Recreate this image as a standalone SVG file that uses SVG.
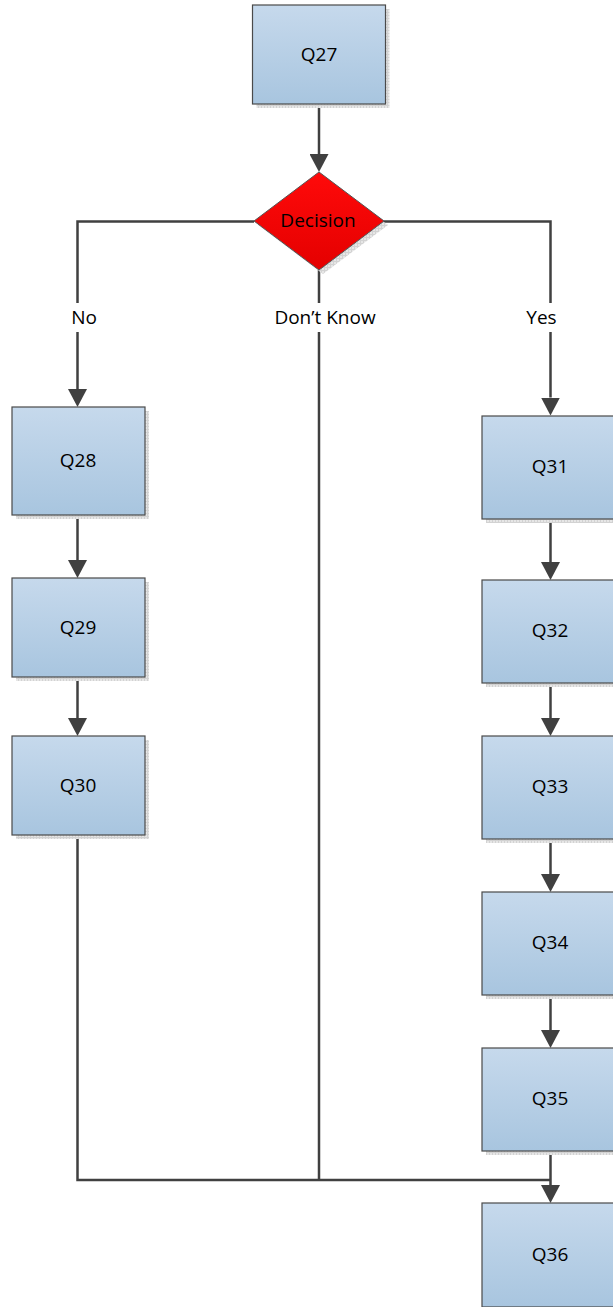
<svg xmlns="http://www.w3.org/2000/svg" width="613" height="1307" viewBox="0 0 613 1307">
<style>
.box{fill:url(#gBox);stroke:#4a4a4a;stroke-width:1.2}
.sh{fill:url(#hatch)}
.lbl{font-family:"Open Sans","Noto Sans",sans-serif;font-size:19px;fill:#000;text-anchor:middle}
.con{fill:none;stroke:#404040;stroke-width:2.5}
.arr{marker-end:url(#ah)}
</style>
<defs>
<linearGradient id="gBox" x1="0" y1="0" x2="0" y2="1">
<stop offset="0" stop-color="#c6d9ec"/>
<stop offset="1" stop-color="#a8c5df"/>
</linearGradient>
<linearGradient id="gRed" x1="0" y1="0" x2="0" y2="1">
<stop offset="0" stop-color="#ff0a0a"/>
<stop offset="1" stop-color="#e40000"/>
</linearGradient>
<pattern id="hatch" width="3" height="3" patternUnits="userSpaceOnUse">
<rect width="3" height="3" fill="#e6e6e6"/>
<rect width="1" height="3" fill="#d2d2d2"/>
<rect width="3" height="1" fill="#d2d2d2"/>
</pattern>
<marker id="ah" markerUnits="userSpaceOnUse" markerWidth="18" markerHeight="19" viewBox="0 0 18 19" refX="0" refY="9.5" orient="auto">
<path d="M0,0 L18,9.5 L0,19 Z" fill="#404040"/>
</marker>
</defs>

<g id="connectors">
<path class="con arr" d="M319,104 V154"/>
<path class="con arr" d="M254,221.5 H77.5 V389"/>
<path class="con arr" d="M384,221.5 H550.5 V397.5"/>
<path class="con" d="M319,270 V1180"/>
<path class="con arr" d="M77.5,515 V560"/>
<path class="con arr" d="M77.5,677 V718"/>
<path class="con" d="M77.5,835 V1180 H550.5"/>
<path class="con arr" d="M550.5,519 V562"/>
<path class="con arr" d="M550.5,683 V718"/>
<path class="con arr" d="M550.5,839 V874"/>
<path class="con arr" d="M550.5,995 V1030"/>
<path class="con arr" d="M550.5,1151 V1185"/>
<rect x="66" y="303" width="36" height="29" fill="#fff"/>
<text class="lbl" x="84" y="324">No</text>
<rect x="270" y="303" width="110" height="29" fill="#fff"/>
<text class="lbl" x="325" y="324">Don’t Know</text>
<rect x="522" y="303" width="40" height="29" fill="#fff"/>
<text class="lbl" x="541.5" y="324">Yes</text>
</g>

<g id="Q27">
<rect class="sh" x="256.5" y="9" width="133" height="99"/>
<rect class="box" x="252.5" y="5" width="133" height="99"/>
<text class="lbl" x="319" y="61">Q27</text>
</g>
<g id="Decision">
<polygon points="323,176 388,225 323,274 258,225" class="sh"/>
<polygon points="319,172 384,221 319,270 254,221" fill="url(#gRed)" stroke="#555" stroke-width="1"/>
<text class="lbl" x="318" y="227">Decision</text>
</g>
<g id="Q28">
<rect class="sh" x="16" y="411" width="133" height="108"/>
<rect class="box" x="12" y="407" width="133" height="108"/>
<text class="lbl" x="78" y="467">Q28</text>
</g>
<g id="Q29">
<rect class="sh" x="16" y="582" width="133" height="99"/>
<rect class="box" x="12" y="578" width="133" height="99"/>
<text class="lbl" x="78" y="634">Q29</text>
</g>
<g id="Q30">
<rect class="sh" x="16" y="740" width="133" height="99"/>
<rect class="box" x="12" y="736" width="133" height="99"/>
<text class="lbl" x="78" y="792">Q30</text>
</g>
<g id="Q31">
<rect class="sh" x="486" y="420" width="133" height="103"/>
<rect class="box" x="482" y="416" width="133" height="103"/>
<text class="lbl" x="550" y="473">Q31</text>
</g>
<g id="Q32">
<rect class="sh" x="486" y="584" width="133" height="103"/>
<rect class="box" x="482" y="580" width="133" height="103"/>
<text class="lbl" x="550" y="637">Q32</text>
</g>
<g id="Q33">
<rect class="sh" x="486" y="740" width="133" height="103"/>
<rect class="box" x="482" y="736" width="133" height="103"/>
<text class="lbl" x="550" y="793">Q33</text>
</g>
<g id="Q34">
<rect class="sh" x="486" y="896" width="133" height="103"/>
<rect class="box" x="482" y="892" width="133" height="103"/>
<text class="lbl" x="550" y="949">Q34</text>
</g>
<g id="Q35">
<rect class="sh" x="486" y="1052" width="133" height="103"/>
<rect class="box" x="482" y="1048" width="133" height="103"/>
<text class="lbl" x="550" y="1105">Q35</text>
</g>
<g id="Q36">
<rect class="sh" x="486" y="1207" width="133" height="104"/>
<rect class="box" x="482" y="1203" width="133" height="104"/>
<text class="lbl" x="550" y="1261">Q36</text>
</g>
</svg>
